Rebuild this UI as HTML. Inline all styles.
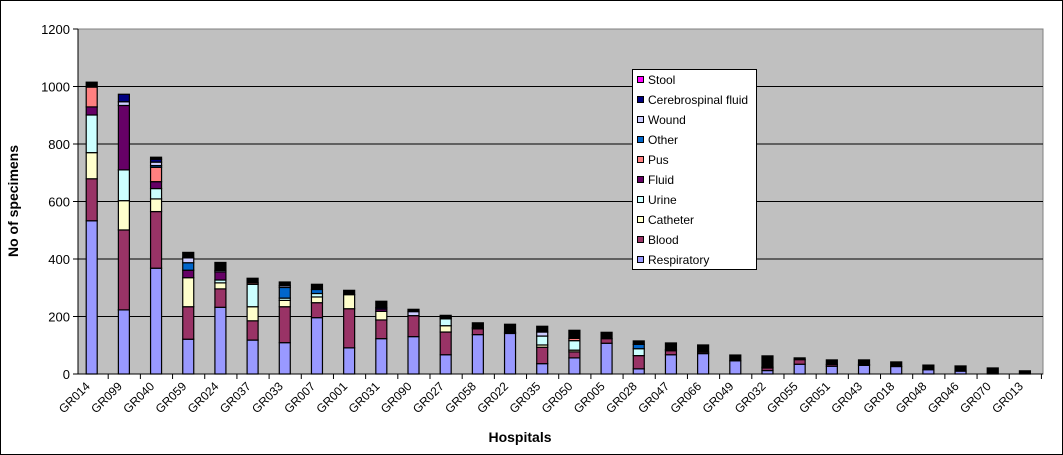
<!DOCTYPE html>
<html><head><meta charset="utf-8"><style>
body{margin:0;background:#fff;}
svg{display:block;font-family:"Liberation Sans",Arial,sans-serif;}
</style></head><body>
<svg id="chart" width="1063" height="455">
<rect x="0.5" y="0.5" width="1062" height="454" fill="#fff" stroke="#000"/>
<rect x="78" y="29" width="965" height="345" fill="#c0c0c0" stroke="#808080"/>
<g id="grid"></g><g id="bars"></g><g id="axes"></g>
<text x="18" y="201" transform="rotate(-90 18 201)" text-anchor="middle" font-size="14" font-weight="bold">No of specimens</text>
<text x="520" y="442" text-anchor="middle" font-size="14" font-weight="bold">Hospitals</text>
<g id="legend"></g>
</svg>
<script>
const categories=["GR014","GR099","GR040","GR059","GR024","GR037","GR033","GR007","GR001","GR031","GR090","GR027","GR058","GR022","GR035","GR050","GR005","GR028","GR047","GR066","GR049","GR032","GR055","GR051","GR043","GR018","GR048","GR046","GR070","GR013","GR004"].slice(0,30);
const seriesNames=["Respiratory","Blood","Catheter","Urine","Fluid","Pus","Other","Wound","Cerebrospinal fluid","Stool","Unspecified"];
const seriesColors=["#9999ff","#993366","#ffffcc","#ccffff","#660066","#ff8080","#0066cc","#ccccff","#000080","#ff00ff","#000000"];
const respiratory=[533,223,368,121,232,118,109,196,91,123,130,67,137,141,36,56,107,18,67,71,46,12,34,27,30,26,15,10,0,0];
const blood=[146,278,197,113,64,67,125,52,136,65,73,79,20,0,57,21,16,46,14,5,0,9,16,6,3,0,0,0,0,0];
const catheter=[91,102,44,101,21,49,22,20,49,30,0,22,0,0,8,6,0,0,4,0,0,3,0,0,0,0,0,0,0,0];
const urine=[131,107,36,0,10,78,8,12,0,0,0,24,0,4,31,33,0,24,0,0,0,0,0,0,0,0,0,0,0,0];
const fluid=[28,224,24,26,28,0,0,0,0,8,0,0,0,0,0,0,0,0,0,0,0,0,0,0,0,0,0,0,0,0];
const pus=[69,0,50,0,0,5,0,0,0,0,0,4,0,0,0,8,0,0,0,0,0,0,0,0,0,0,0,0,0,0];
const other=[0,0,6,26,0,0,37,14,0,0,0,0,0,0,0,0,0,15,0,0,0,0,0,0,0,0,0,0,0,0];
const wound=[0,13,12,17,5,0,6,0,0,0,14,0,4,0,14,0,0,0,0,0,0,0,0,0,0,0,0,0,0,0];
const csf=[0,26,10,0,0,0,0,0,0,5,0,0,0,0,0,0,0,0,0,0,0,0,0,0,0,0,0,0,0,0];
const stool=[0,0,0,0,0,0,0,0,0,0,0,0,0,0,0,0,0,0,0,0,0,0,0,0,0,0,0,0,0,0];
const unspecified=[17,0,7,19,28,16,13,18,15,22,8,8,17,28,20,28,22,12,23,25,20,39,6,16,16,16,16,18,21,11];
const yTicks=[0,200,400,600,800,1000,1200];
const series=[respiratory,blood,catheter,urine,fluid,pus,other,wound,csf,stool,unspecified];
const NS="http://www.w3.org/2000/svg";
const y0=374,y1=29,yMax=1200;
const yScale=v=>y0-(v/yMax)*(y0-y1);
const step=32.18,first=91.7;
const xCenter=i=>first+i*step;
function mk(tag,attrs,parent){const e=document.createElementNS(NS,tag);for(const k in attrs)e.setAttribute(k,attrs[k]);parent.appendChild(e);return e;}
const grid=document.getElementById('grid'),axes=document.getElementById('axes'),bars=document.getElementById('bars');
yTicks.forEach(t=>{const y=yScale(t);
 if(t>0&&t<yMax){const l=mk('line',{x1:78,x2:1043,y1:y,y2:y,stroke:'#000','stroke-width':1},grid);
 
 }
 const tk=mk('line',{x1:73,x2:78,y1:y,y2:y,stroke:'#000'},axes);
 
 
 const tx=mk('text',{x:70,y:y+5,'text-anchor':'end','font-size':13},axes);tx.textContent=t;
 
 
});
const ax=mk('line',{x1:78,x2:78,y1:29,y2:374,stroke:'#000'},axes);


const bx=mk('line',{x1:78,x2:1043,y1:374,y2:374,stroke:'#000'},axes);


categories.forEach((c,i)=>{const cx=xCenter(i);
 const tk=mk('line',{x1:cx+16.5,x2:cx+16.5,y1:374,y2:379,stroke:'#000'},axes);
 
 
 const tx=mk('text',{x:cx-1,y:387,'text-anchor':'end','font-size':12,transform:`rotate(-45 ${cx-1} 387)`},axes);tx.textContent=c;
 
 
 let cum=0;
 series.forEach((s,k)=>{const v=s[i];if(!v)return;
  const yt=yScale(cum+v),yb=yScale(cum);cum+=v;
  const r=mk('rect',{x:cx-5.5,y:yt,width:11,height:Math.max(yb-yt,0.5),fill:seriesColors[k],stroke:'#000','stroke-width':1.2},bars);
  
  
 });
});
const lg=document.getElementById('legend');
const box=mk('rect',{x:632.5,y:69.5,width:124,height:200,fill:'#fff',stroke:'#000'},lg);


const legendOrder=[9,8,7,6,5,4,3,2,1,0];
legendOrder.forEach((k,j)=>{const y=80+j*20;
 const sw=mk('rect',{x:637.5,y:y-3.5,width:6,height:6,fill:seriesColors[k],stroke:'#000'},lg);
 
 
 const tx=mk('text',{x:648,y:y+4,'font-size':12},lg);tx.textContent=seriesNames[k];
 
 
});
</script>
</body></html>
